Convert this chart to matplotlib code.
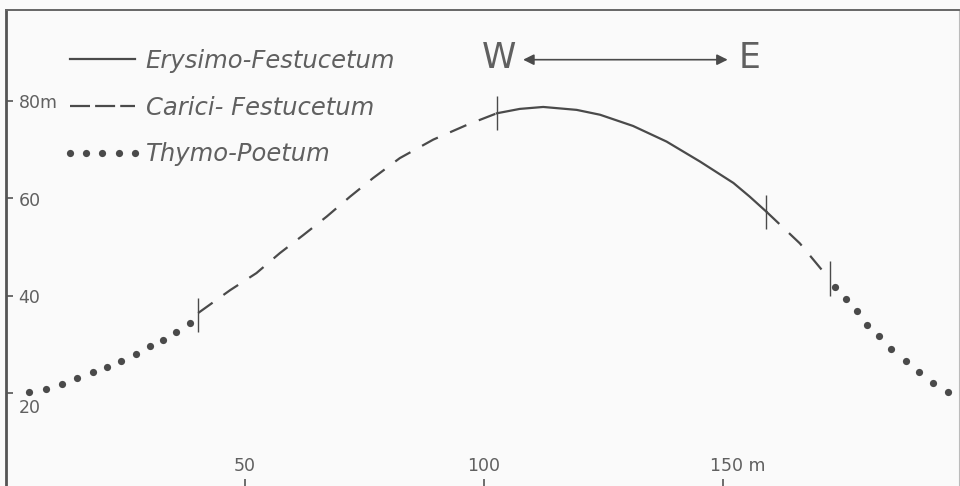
import numpy as np
import matplotlib.pyplot as plt
from matplotlib.lines import Line2D
from matplotlib.legend_handler import HandlerLine2D

# profile, distance (m) / altitude (m)
thymo_left_x = [4.9, 8.3, 11.7, 14.9, 18.3, 21.1, 24.1, 27.1, 30.1, 32.8, 35.6, 38.4]
thymo_left_y = [20.1, 20.9, 21.9, 23.0, 24.2, 25.4, 26.6, 28.0, 29.6, 30.8, 32.5, 34.4]

carici_left_x = [40.2, 46.9, 52.4, 57.3, 62.2, 67.1, 72.0, 76.8, 82.4, 89.4, 96.4, 102.7]
carici_left_y = [36.4, 41.1, 44.6, 48.7, 52.4, 56.2, 60.3, 64.1, 68.2, 72.0, 75.0, 77.4]

erysimo_x = [102.7, 107.5, 112.4, 119.4, 124.3, 131.2, 138.2, 145.2, 152.2, 155.6, 159.1]
erysimo_y = [77.4, 78.3, 78.7, 78.1, 77.1, 74.8, 71.6, 67.5, 63.1, 60.3, 57.2]

carici_right_x = [159.1, 160.5, 166.1, 171.0, 172.4]
carici_right_y = [57.2, 55.9, 50.7, 44.9, 43.5]

thymo_right_x = [173.5, 175.7, 178.0, 180.1, 182.6, 185.2, 188.3, 191.1, 194.0, 197.1]
thymo_right_y = [41.8, 39.3, 36.8, 34.0, 31.6, 29.0, 26.5, 24.2, 22.1, 20.1]

# community borders along the profile
border_x = [40.1, 102.8, 159.1, 172.4]
border_y = [36.0, 77.4, 57.2, 43.5]

xticks = [50, 100, 150]
xlabels = ['50', '100', '150 m']
yticks = [20, 40, 60, 80]
ylabels = ['20', '40', '60', '80m']

names = ['Erysimo-Festucetum', 'Carici- Festucetum', 'Thymo-Poetum']

ink = '#4a4a4a'
txt = '#606060'
bg = '#fafafa'

fig = plt.figure(figsize=(9.6, 4.86), dpi=100, facecolor=bg)
ax = fig.add_axes([6/960, 0, 953/960, 476/486], facecolor=bg)
ax.set_xlim(0, 199.4)
ax.set_ylim(0.9, 98.6)

dash = (0, (8.0, 6.0))
ax.plot(thymo_left_x, thymo_left_y, 'o', ms=5.2, color=ink, mec='none')
ax.plot(carici_left_x, carici_left_y, color=ink, lw=1.6, linestyle=dash)
ax.plot(erysimo_x, erysimo_y, color=ink, lw=1.6)
ax.plot(carici_right_x, carici_right_y, color=ink, lw=1.6, linestyle=dash)
ax.plot(thymo_right_x, thymo_right_y, 'o', ms=5.2, color=ink, mec='none')
ax.vlines(border_x, np.array(border_y) - 3.5, np.array(border_y) + 3.5, color=ink, lw=1.0)

# frame
ax.spines['bottom'].set_visible(False)
ax.spines['left'].set_linewidth(2.0)
ax.spines['left'].set_color('#555555')
ax.spines['top'].set_linewidth(1.4)
ax.spines['top'].set_color('#666666')
ax.spines['right'].set_linewidth(0.8)
ax.spines['right'].set_color('#bbbbbb')

ax.set_xticks(xticks, [''] * len(xticks))
ax.set_yticks(yticks, [''] * len(yticks))
ax.tick_params(axis='y', direction='in', length=5, width=1.2, color='#555555')
ax.tick_params(axis='x', direction='in', length=5, width=1.2, color='#555555')

for v, lab in zip(yticks, ylabels):
    dy = -11 if v == 20 else -2
    ax.annotate(lab, (0, v), xycoords=('axes fraction', 'data'), xytext=(9, dy),
                textcoords='offset points', ha='left', va='center',
                fontsize=12.5, color=txt)
for v, lab in zip(xticks, xlabels):
    if lab.endswith('m'):
        ax.annotate(lab, (v, 0), xycoords=('data', 'axes fraction'), xytext=(-9.5, 8),
                    textcoords='offset points', ha='left', va='bottom',
                    fontsize=12.5, color=txt)
    else:
        ax.annotate(lab, (v, 0), xycoords=('data', 'axes fraction'), xytext=(0, 8),
                    textcoords='offset points', ha='center', va='bottom',
                    fontsize=12.5, color=txt)

# legend
handles = [Line2D([], [], color=ink, lw=1.6),
           Line2D([], [], color=ink, lw=1.6, linestyle=(0, (9, 2.3))),
           Line2D([], [], color=ink, ls='none', marker='o', ms=5.2, mec='none')]
leg = ax.legend(handles, names, loc='upper left', bbox_to_anchor=(64/953, 1 - 39/476),
                frameon=False, borderpad=0, borderaxespad=0, handlelength=2.67,
                handletextpad=0.45, labelspacing=0.93, numpoints=5,
                handler_map={Line2D: HandlerLine2D(marker_pad=0, numpoints=5)},
                prop={'size': 17.5, 'style': 'italic'})
for t in leg.get_texts():
    t.set_color(txt)

# orientation W <-> E
ax.text(103.1, 88.8, 'W', fontsize=25, color=txt, ha='center', va='center')
ax.text(155.6, 88.8, 'E', fontsize=25, color=txt, ha='center', va='center')
ax.annotate('', xy=(151.0, 88.4), xytext=(108.2, 88.4),
            arrowprops=dict(arrowstyle='<|-|>', color=ink, lw=1.2, mutation_scale=16,
                            shrinkA=0, shrinkB=0))

plt.savefig('out.png', dpi=100, facecolor=bg)
